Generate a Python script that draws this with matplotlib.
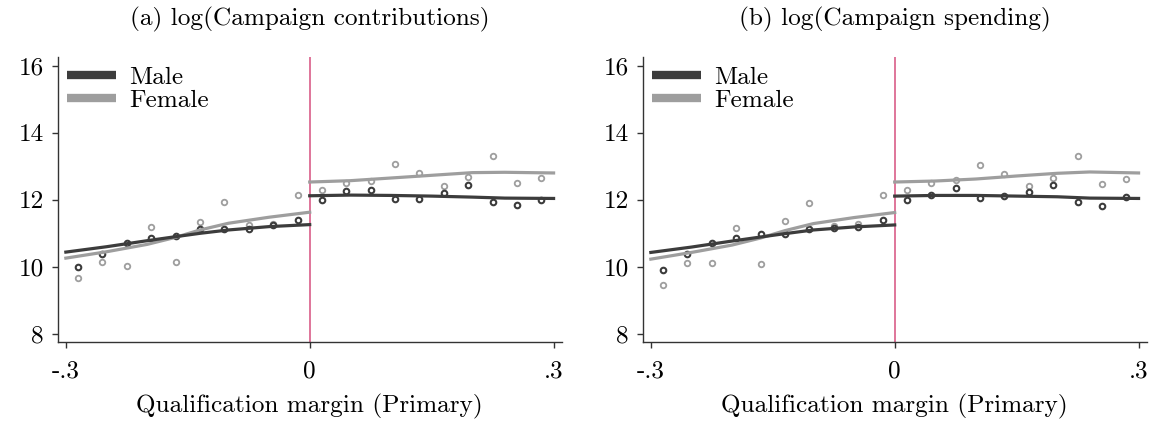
import numpy as np
import matplotlib
matplotlib.use("Agg")
from matplotlib import pyplot as plt

plt.rcParams["font.family"] = ["cmr10", "DejaVu Serif"]
plt.rcParams["mathtext.fontset"] = "cm"
plt.rcParams["axes.unicode_minus"] = False

# bin centers
bins_left = [-0.285, -0.255, -0.225, -0.195, -0.165, -0.135, -0.105, -0.075, -0.045, -0.015]
bins_right = [0.015, 0.045, 0.075, 0.105, 0.135, 0.165, 0.195, 0.225, 0.255, 0.285]

# (a) contributions - binned means
a_male_left = [10.00, 10.37, 10.71, 10.86, 10.93, 11.14, 11.14, 11.14, 11.26, 11.41]
a_female_left = [9.68, 10.13, 10.03, 11.18, 10.13, 11.35, 11.92, 11.24, 11.28, 12.15]
a_male_right = [11.99, 12.25, 12.28, 12.01, 12.03, 12.20, 12.45, 11.93, 11.83, 12.00]
a_female_right = [12.28, 12.50, 12.57, 13.07, 12.80, 12.40, 12.69, 13.30, 12.49, 12.65]

# (b) spending - binned means
b_male_left = [9.92, 10.39, 10.70, 10.85, 10.97, 10.98, 11.14, 11.15, 11.20, 11.39]
b_female_left = [9.47, 10.12, 10.11, 11.15, 10.08, 11.36, 11.89, 11.23, 11.29, 12.15]
b_male_right = [11.98, 12.14, 12.35, 12.06, 12.10, 12.22, 12.44, 11.92, 11.81, 12.08]
b_female_right = [12.28, 12.50, 12.58, 13.05, 12.78, 12.40, 12.65, 13.31, 12.46, 12.63]

# fitted curves
fit_x_left = [-0.3, -0.25, -0.2, -0.165, -0.135, -0.1, -0.05, 0.0]
fit_x_right = [0.0, 0.05, 0.1, 0.15, 0.2, 0.24, 0.3]
a_fit_male_left = [10.44, 10.60, 10.78, 10.90, 11.00, 11.10, 11.20, 11.26]
a_fit_female_left = [10.26, 10.45, 10.67, 10.88, 11.10, 11.30, 11.48, 11.63]
a_fit_male_right = [12.12, 12.14, 12.13, 12.11, 12.08, 12.05, 12.04]
a_fit_female_right = [12.53, 12.57, 12.65, 12.73, 12.81, 12.82, 12.80]
b_fit_male_left = [10.43, 10.59, 10.77, 10.89, 10.99, 11.10, 11.19, 11.25]
b_fit_female_left = [10.23, 10.43, 10.65, 10.86, 11.08, 11.29, 11.47, 11.62]
b_fit_male_right = [12.11, 12.13, 12.13, 12.11, 12.09, 12.05, 12.04]
b_fit_female_right = [12.53, 12.56, 12.62, 12.71, 12.79, 12.83, 12.80]

titles = ["(a) log(Campaign contributions)", "(b) log(Campaign spending)"]

male_col = "#3c3c3c"
female_col = "#9e9e9e"
cut_col = "#d6507e"
fs = 18.2

fig = plt.figure(figsize=(11.52, 4.25), dpi=100)
ax1 = fig.add_axes([0.0501, 0.1946, 0.4375, 0.6714])
ax2 = fig.add_axes([0.5579, 0.1946, 0.4375, 0.6714])

panels = [
    (ax1, a_male_left, a_female_left, a_male_right, a_female_right,
     a_fit_male_left, a_fit_female_left, a_fit_male_right, a_fit_female_right),
    (ax2, b_male_left, b_female_left, b_male_right, b_female_right,
     b_fit_male_left, b_fit_female_left, b_fit_male_right, b_fit_female_right),
]

for i, (ax, ml, fl, mr, fr, fml, ffl, fmr, ffr) in enumerate(panels):
    ax.axvline(0, color=cut_col, lw=1.1, zorder=1)
    ax.plot(bins_left, fl, "o", ms=4, mfc="none", mec=female_col, mew=1.3, zorder=2)
    ax.plot(bins_right, fr, "o", ms=4, mfc="none", mec=female_col, mew=1.3, zorder=2)
    ax.plot(bins_left, ml, "o", ms=4, mfc="none", mec=male_col, mew=1.5, zorder=3)
    ax.plot(bins_right, mr, "o", ms=4, mfc="none", mec=male_col, mew=1.5, zorder=3)
    ax.plot(fit_x_left, ffl, color=female_col, lw=2.3, zorder=4)
    ax.plot(fit_x_right, ffr, color=female_col, lw=2.3, zorder=4)
    ax.plot(fit_x_left, fml, color=male_col, lw=2.3, zorder=5)
    ax.plot(fit_x_right, fmr, color=male_col, lw=2.3, zorder=5)

    # legend handles
    h1, = ax.plot([], [], color=male_col, lw=6, solid_capstyle="butt", label="Male")
    h2, = ax.plot([], [], color=female_col, lw=6, solid_capstyle="butt", label="Female")
    ax.legend(handles=[h1, h2], loc="upper left", bbox_to_anchor=(-0.012, 1.02),
              frameon=False, fontsize=fs, handlelength=1.95, handletextpad=0.5,
              labelspacing=0.0, borderaxespad=0.2)

    ax.set_xlim(-0.31, 0.31)
    ax.set_ylim(7.75, 16.26)
    ax.set_xticks([-0.3, 0, 0.3])
    ax.set_xticklabels(["-.3", "0", ".3"])
    ax.set_yticks([8, 10, 12, 14, 16])
    ax.set_yticklabels(["8", "10", "12", "14", "16"])
    ax.tick_params(direction="out", length=4, width=1, colors="#333333",
                   labelcolor="black", labelsize=fs)
    ax.tick_params(axis="x", pad=9)
    ax.tick_params(axis="y", pad=6)
    for s in ["top", "right"]:
        ax.spines[s].set_visible(False)
    for s in ["left", "bottom"]:
        ax.spines[s].set_color("#333333")
        ax.spines[s].set_linewidth(1.0)
    ax.set_xlabel("Qualification margin (Primary)", fontsize=fs, labelpad=8)
    ax.set_title(titles[i], fontsize=fs, pad=23)

plt.savefig("out.png", dpi=100)
